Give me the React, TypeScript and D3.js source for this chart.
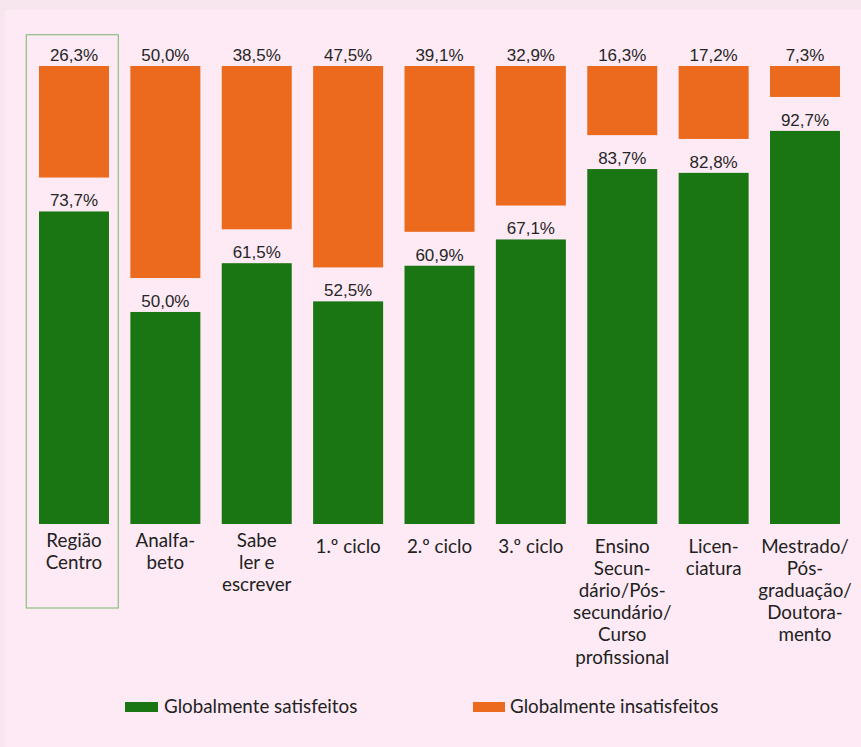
import React from "react";
import * as d3 from "d3";

const categories = [
  "Região Centro",
  "Analfabeto",
  "Sabe ler e escrever",
  "1.º ciclo",
  "2.º ciclo",
  "3.º ciclo",
  "Ensino Secundário",
  "Licenciatura",
  "Mestrado",
];
const categoryLines = [
  ["Região", "Centro"],
  ["Analfa-", "beto"],
  ["Sabe", "ler e", "escrever"],
  ["1.º ciclo"],
  ["2.º ciclo"],
  ["3.º ciclo"],
  ["Ensino", "Secun-", "dário/Pós-", "secundário/", "Curso", "profissional"],
  ["Licen-", "ciatura"],
  ["Mestrado/", "Pós-", "graduação/", "Doutora-", "mento"],
];
const satisfeitos = [73.7, 50.0, 61.5, 52.5, 60.9, 67.1, 83.7, 82.8, 92.7];
const insatisfeitos = [26.3, 50.0, 38.5, 47.5, 39.1, 32.9, 16.3, 17.2, 7.3];
const seriesNames = ["Globalmente satisfeitos", "Globalmente insatisfeitos"];
const GAP = 8;

const W = 861;
const H = 747;
const GREEN = "#1a7612";
const ORANGE = "#eb6a1d";

export default function App() {
  const x = d3
    .scaleBand<string>()
    .domain(categories)
    .range([28.3, 850.7])
    .paddingInner(0.234)
    .paddingOuter(0.117);
  const y = d3.scaleLinear().domain([0, 100 + GAP]).range([524, 66]);
  const fmt = (v: number) => v.toFixed(1).replace(".", ",") + "%";
  const bw = x.bandwidth();
  const valueFont = "'Liberation Sans', Arial, sans-serif";
  const catFont = "Lato, 'Open Sans', sans-serif";
  const catSize = 18.8;

  return (
    <svg
      width={W}
      height={H}
      style={{ position: "absolute", left: 0, top: 0 }}
    >
      <rect x={0} y={0} width={W} height={H} fill="#f8e6ef" />
      <rect x={5} y={10} width={W - 5} height={H - 10} fill="#fdeaf5" />

      {/* highlight box */}
      <rect
        x={(x(categories[0]) as number) - 12.7}
        y={34.7}
        width={92}
        height={573.3}
        fill="none"
        stroke="#8fbd86"
        strokeWidth={1.2}
      />

      {categories.map((c, i) => {
        const x0 = x(c) as number;
        const s = satisfeitos[i];
        const d = insatisfeitos[i];
        const gTop = y(s);
        const oBottom = y(s + GAP);
        const oTop = y(s + GAP + d);
        const cx = x0 + bw / 2;
        const baseY = i < 3 ? 547 : 552.5;
        return (
          <g key={c}>
            <rect x={x0} y={gTop} width={bw} height={y(0) - gTop} fill={GREEN} />
            <rect x={x0} y={oTop} width={bw} height={oBottom - oTop} fill={ORANGE} />
            <text
              x={cx}
              y={gTop - 5}
              textAnchor="middle"
              fontFamily={valueFont}
              fontSize={17}
              fill="#262626"
            >
              {fmt(s)}
            </text>
            <text
              x={cx}
              y={oTop - 5}
              textAnchor="middle"
              fontFamily={valueFont}
              fontSize={17}
              fill="#262626"
            >
              {fmt(d)}
            </text>
            <text
              textAnchor="middle"
              fontFamily={catFont}
              fontSize={catSize}
              fill="#222"
            >
              {categoryLines[i].map((l, j) => (
                <tspan key={j} x={cx} y={baseY + j * 22.2}>
                  {l}
                </tspan>
              ))}
            </text>
          </g>
        );
      })}

      {/* legend */}
      <rect x={125} y={702} width={33} height={10} fill={GREEN} />
      <text x={164} y={713} fontFamily={catFont} fontSize={catSize} fill="#222">
        {seriesNames[0]}
      </text>
      <rect x={473} y={702} width={32} height={10} fill={ORANGE} />
      <text x={510} y={713} fontFamily={catFont} fontSize={catSize} fill="#222">
        {seriesNames[1]}
      </text>
    </svg>
  );
}
